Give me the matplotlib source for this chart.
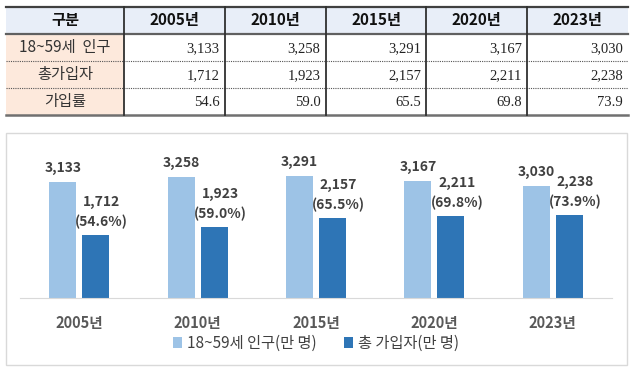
import matplotlib.pyplot as plt
from matplotlib.patches import Rectangle
import numpy as np

# -----------------------------
# DATA
# -----------------------------
years = ["2005년", "2010년", "2015년", "2020년", "2023년"]
population = [3133, 3258, 3291, 3167, 3030]      # 18~59세 인구 (만 명)
subscribers = [1712, 1923, 2157, 2211, 2238]     # 총 가입자 (만 명)
rates = [54.6, 59.0, 65.5, 69.8, 73.9]           # 가입률 (%)

row_labels = ["18~59세  인구", "총가입자", "가입률"]
corner_label = "구분"

KR = ["Noto Sans CJK KR", "DejaVu Sans"]
plt.rcParams['font.family'] = KR

LIGHT = "#9dc3e6"
DARK = "#2e75b6"
TXT = "#404040"

W, H = 631, 369
fig = plt.figure(figsize=(W / 100, H / 100), dpi=100)

# -----------------------------
# TABLE (pixel coordinates)
# -----------------------------
tab = fig.add_axes([0, 0, 1, 1])
tab.set_xlim(0, W)
tab.set_ylim(H, 0)
tab.axis("off")

col_x = [6, 124, 224.8, 325.6, 426.4, 527.2, 628]
row_y = [7, 34, 61, 88, 115]

# backgrounds
tab.add_patch(Rectangle((col_x[0], row_y[0]), col_x[-1] - col_x[0], row_y[1] - row_y[0],
                        facecolor="#e8eef8", edgecolor="none"))
tab.add_patch(Rectangle((col_x[0], row_y[1]), col_x[1] - col_x[0], row_y[-1] - row_y[1],
                        facecolor="#fde9dc", edgecolor="none"))

# lines
tab.plot([col_x[0], col_x[-1]], [row_y[0], row_y[0]], color="#404040", lw=1.6)
tab.plot([col_x[0], col_x[-1]], [row_y[1], row_y[1]], color="#606060", lw=1.6)
for y in row_y[2:4]:
    tab.plot([col_x[0], col_x[-1]], [y, y], color="#555555", lw=0.8, ls=(0, (1, 1)))
tab.plot([col_x[0], col_x[-1]], [row_y[-1], row_y[-1]], color="#707070", lw=1.8)
for x in col_x[1:-1]:
    tab.plot([x, x], [row_y[0], row_y[-1]], color="#303030", lw=1.3)

# header
hy = (row_y[0] + row_y[1]) / 2
tab.text((col_x[0] + col_x[1]) / 2, hy, corner_label, ha="center", va="center",
         fontsize=11, fontweight="bold", color="#111111")
for i, yr in enumerate(years):
    tab.text((col_x[i + 1] + col_x[i + 2]) / 2, hy, yr, ha="center", va="center",
             fontsize=11, fontweight="bold", color="#111111")

# body
body = [[f"{v:,}" for v in population],
        [f"{v:,}" for v in subscribers],
        [f"{v:.1f}" for v in rates]]
for r, lab in enumerate(row_labels):
    cy = (row_y[r + 1] + row_y[r + 2]) / 2
    tab.text((col_x[0] + col_x[1]) / 2, cy, lab, ha="center", va="center",
             fontsize=11, color="#333333")
    for c, val in enumerate(body[r]):
        tab.text(col_x[c + 2] - 5, cy + 1, val, ha="right", va="center",
                 fontsize=10.5, color="#222222", family="Liberation Serif")

# chart frame
tab.add_patch(Rectangle((6, 133), 621, 232, facecolor="none", edgecolor="#d9d9d9", lw=1.0))

# -----------------------------
# BAR CHART
# -----------------------------
base_px, top_px = 298, 140
ax = fig.add_axes([20 / W, (H - base_px) / H, 592 / W, (base_px - top_px) / H])
ax.set_xlim(-0.5, len(years) - 0.5)
ax.set_ylim(0, 4270)

x = np.arange(len(years))
bw = 0.228
off = 0.139
ax.bar(x - off, population, width=bw, color=LIGHT, label="18~59세 인구(만 명)")
ax.bar(x + off, subscribers, width=bw, color=DARK, label="총 가입자(만 명)")

for i in range(len(years)):
    ax.annotate(f"{population[i]:,}", (x[i] - off, population[i]), xytext=(0, 14),
                textcoords="offset pixels", ha="center", va="center",
                fontsize=10, fontweight="bold", color=TXT)
    ax.annotate(f"{subscribers[i]:,}", (x[i] + off, subscribers[i]), xytext=(6, 33),
                textcoords="offset pixels", ha="center", va="center",
                fontsize=10, fontweight="bold", color=TXT)
    ax.annotate(f"({rates[i]:.1f}%)", (x[i] + off, subscribers[i]), xytext=(6, 13),
                textcoords="offset pixels", ha="center", va="center",
                fontsize=10, fontweight="bold", color=TXT)

for s in ["top", "left", "right"]:
    ax.spines[s].set_visible(False)
ax.spines["bottom"].set_color("#d9d9d9")
ax.set_yticks([])
ax.set_xticks(x)
ax.set_xticklabels(years, fontsize=10.5, fontweight="bold", color="#595959")
ax.tick_params(axis="x", length=0, pad=12)

ax.legend(loc="center", bbox_to_anchor=(0.5, -0.285), ncol=2, frameon=False,
          fontsize=11, handlelength=0.6, handleheight=0.7, handletextpad=0.3,
          columnspacing=1.8, labelcolor=TXT)

fig.savefig("out.png", dpi=100)
